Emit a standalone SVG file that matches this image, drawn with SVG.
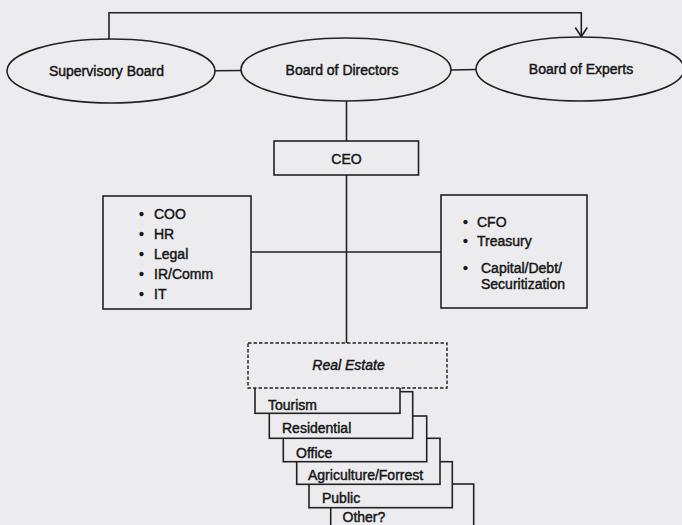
<svg xmlns="http://www.w3.org/2000/svg" width="682" height="525" viewBox="0 0 682 525">
<defs>
<style>
.bg{fill:#ECECEE}
.shape{fill:#ECECEE;stroke:#222;stroke-width:1.6}
.dash{fill:#ECECEE;stroke:#222;stroke-width:1.4;stroke-dasharray:3.5 2}
.line{fill:none;stroke:#222;stroke-width:1.6}
text{font-family:"Liberation Sans",Arial,sans-serif;font-size:14px;fill:#161616;stroke:#161616;stroke-width:0.45}
.c{text-anchor:middle}
.it{font-style:italic}
</style>
<marker id="arr" markerWidth="14" markerHeight="14" refX="11" refY="7" orient="auto" markerUnits="userSpaceOnUse" viewBox="0 0 14 14">
<path d="M2,1 L11,7 L2,13" fill="none" stroke="#222" stroke-width="1.6"/>
</marker>
</defs>
<rect class="bg" x="0" y="0" width="682" height="525"/>
<g id="connectors">
<path class="line" d="M109,39 V12.7 H581.3 V36.5" marker-end="url(#arr)"/>
<line class="line" x1="215" y1="70.7" x2="241" y2="70.5"/>
<line class="line" x1="451" y1="70" x2="476" y2="69.5"/>
<line class="line" x1="346.5" y1="101" x2="346.5" y2="141"/>
<line class="line" x1="346.5" y1="175" x2="346.5" y2="343"/>
<line class="line" x1="251" y1="252" x2="441" y2="252"/>
</g>
<g id="supervisory-board">
<ellipse class="shape" cx="111" cy="71" rx="104" ry="32"/>
<text class="c" x="106.5" y="76">Supervisory Board</text>
</g>
<g id="board-of-directors">
<ellipse class="shape" cx="346" cy="69.5" rx="105" ry="31.5"/>
<text class="c" x="342" y="75">Board of Directors</text>
</g>
<g id="board-of-experts">
<ellipse class="shape" cx="580" cy="69" rx="104" ry="32"/>
<text class="c" x="581" y="74">Board of Experts</text>
</g>
<g id="ceo">
<rect class="shape" x="274" y="141" width="144.5" height="34"/>
<text class="c" x="346.5" y="163.5">CEO</text>
</g>
<g id="operations">
<rect class="shape" x="103" y="196" width="148" height="113"/>
<text x="139" y="219">•</text><text x="154" y="219">COO</text>
<text x="139" y="239">•</text><text x="154" y="239">HR</text>
<text x="139" y="259">•</text><text x="154" y="259">Legal</text>
<text x="139" y="279">•</text><text x="154" y="279">IR/Comm</text>
<text x="139" y="298.5">•</text><text x="154" y="298.5">IT</text>
</g>
<g id="finance">
<rect class="shape" x="441" y="195" width="146" height="113"/>
<text x="463" y="227">•</text><text x="477" y="227">CFO</text>
<text x="463" y="246">•</text><text x="477" y="246">Treasury</text>
<text x="463" y="273">•</text><text x="481" y="273">Capital/Debt/</text>
<text x="481" y="288.5">Securitization</text>
</g>
<g id="other">
<rect class="shape" x="330.7" y="484" width="143" height="60"/>
<text x="342.5" y="521.5">Other?</text>
</g>
<g id="public">
<rect class="shape" x="309" y="461.7" width="143.3" height="46"/>
<text x="322" y="502.5">Public</text>
</g>
<g id="agriculture">
<rect class="shape" x="296.7" y="438.3" width="143.3" height="46"/>
<text x="308" y="480">Agriculture/Forrest</text>
</g>
<g id="office">
<rect class="shape" x="283.3" y="416" width="143.4" height="45.7"/>
<text x="296" y="457.5">Office</text>
</g>
<g id="residential">
<rect class="shape" x="269.3" y="391.7" width="143.4" height="46.6"/>
<text x="282" y="433">Residential</text>
</g>
<g id="tourism">
<rect class="shape" x="255" y="370" width="145" height="43.3"/>
<text x="268" y="410">Tourism</text>
</g>
<g id="real-estate">
<rect class="dash" x="248" y="343" width="199" height="45"/>
<text class="c it" x="348.5" y="370">Real Estate</text>
</g>
</svg>
